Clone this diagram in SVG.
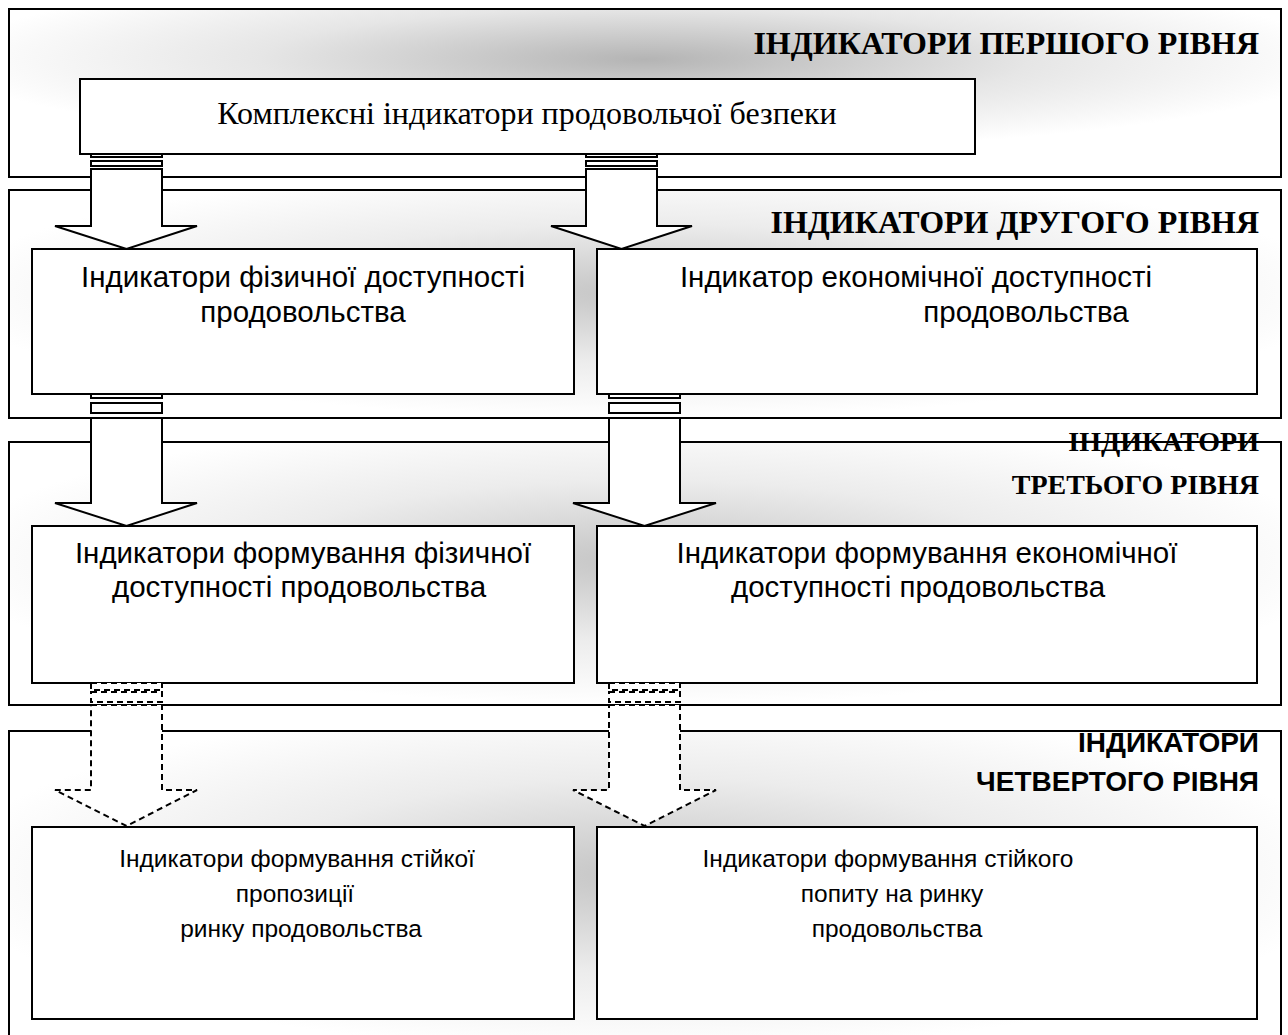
<svg xmlns="http://www.w3.org/2000/svg" width="1288" height="1035" viewBox="0 0 1288 1035">
<defs>
<radialGradient id="g1" cx="0.5" cy="0.3" r="0.55">
<stop offset="0" stop-color="#b4b4b4"/>
<stop offset="0.55" stop-color="#e6e6e6"/>
<stop offset="1" stop-color="#ffffff"/>
</radialGradient>
<radialGradient id="g2" cx="0.5" cy="0.45" r="0.55">
<stop offset="0" stop-color="#c4c4c4"/>
<stop offset="0.55" stop-color="#ececec"/>
<stop offset="1" stop-color="#ffffff"/>
</radialGradient>
</defs>
<style>
.panel{stroke:#000;stroke-width:2}
.box{fill:#fff;stroke:#000;stroke-width:2}
.arr{fill:#fff;stroke:#000;stroke-width:2;stroke-linejoin:miter}
.dash{fill:#fff;stroke:#000;stroke-width:2;stroke-dasharray:6 4}
.title{font-family:"Liberation Serif","Times New Roman",serif;font-weight:bold;font-size:28px;text-anchor:end}
.big{font-size:32px}
.titles{font-family:"Liberation Sans",Arial,sans-serif;font-weight:bold;font-size:28px;text-anchor:end}
.t1{font-family:"Liberation Serif","Times New Roman",serif;font-size:32px;text-anchor:middle}
.t{font-family:"Liberation Sans",Arial,sans-serif;font-size:29.5px;text-anchor:middle}
.t4{font-family:"Liberation Sans",Arial,sans-serif;font-size:24.5px;text-anchor:middle}
</style>
<g id="panel1">
<rect class="panel" x="9" y="9" width="1272" height="168" fill="url(#g1)"/>
<text class="title big" x="1259" y="54">ІНДИКАТОРИ ПЕРШОГО РІВНЯ</text>
</g>
<g id="panel2">
<rect class="panel" x="9" y="190" width="1272" height="228" fill="url(#g2)"/>
<text class="title big" x="1259" y="233">ІНДИКАТОРИ ДРУГОГО РІВНЯ</text>
</g>
<g id="panel3">
<rect class="panel" x="9" y="442" width="1272" height="263" fill="url(#g2)"/>
<text class="title" x="1259" y="451">ІНДИКАТОРИ</text>
<text class="title" x="1259" y="494">ТРЕТЬОГО РІВНЯ</text>
</g>
<g id="panel4">
<rect class="panel" x="9" y="731" width="1272" height="320" fill="url(#g2)"/>
<text class="titles" x="1259" y="752">ІНДИКАТОРИ</text>
<text class="titles" x="1259" y="791">ЧЕТВЕРТОГО РІВНЯ</text>
</g>
<g id="node-complex">
<rect class="box" x="80" y="79" width="895" height="75"/>
<text class="t1" x="527" y="124">Комплексні індикатори продовольчої безпеки</text>
</g>
<g id="node-phys">
<rect class="box" x="32" y="249" width="542" height="145"/>
<text class="t" x="303" y="287">Індикатори фізичної доступності</text>
<text class="t" x="303" y="322">продовольства</text>
</g>
<g id="node-econ">
<rect class="box" x="597" y="249" width="660" height="145"/>
<text class="t" x="916" y="287">Індикатор економічної доступності</text>
<text class="t" x="1026" y="322">продовольства</text>
</g>
<g id="node-phys-form">
<rect class="box" x="32" y="526" width="542" height="157"/>
<text class="t" x="303" y="563">Індикатори формування фізичної</text>
<text class="t" x="299" y="597">доступності продовольства</text>
</g>
<g id="node-econ-form">
<rect class="box" x="597" y="526" width="660" height="157"/>
<text class="t" x="927" y="563">Індикатори формування економічної</text>
<text class="t" x="918" y="597">доступності продовольства</text>
</g>
<g id="node-supply">
<rect class="box" x="32" y="827" width="542" height="192"/>
<text class="t4" x="297" y="867">Індикатори формування стійкої</text>
<text class="t4" x="295" y="902">пропозиції</text>
<text class="t4" x="301" y="937">ринку продовольства</text>
</g>
<g id="node-demand">
<rect class="box" x="597" y="827" width="660" height="192"/>
<text class="t4" x="888" y="867">Індикатори формування стійкого</text>
<text class="t4" x="892" y="902">попиту на ринку</text>
<text class="t4" x="897" y="937">продовольства</text>
</g>
<g id="connectors">
<g id="a1">
<rect class="arr" x="91" y="154" width="71" height="3"/>
<rect class="arr" x="91" y="161" width="71" height="5"/>
<path class="arr" d="M91,169 H162 V226 H197 L126.5,249 L55,226 H91 Z"/>
</g>
<g id="a2">
<rect class="arr" x="586" y="154" width="71" height="3"/>
<rect class="arr" x="586" y="161" width="71" height="5"/>
<path class="arr" d="M586,169 H657 V226 H692 L621.5,249 L551,226 H586 Z"/>
</g>
<g id="a3">
<rect class="arr" x="91" y="394" width="71" height="4"/>
<rect class="arr" x="91" y="403" width="71" height="10"/>
<path class="arr" d="M91,418 H162 V503 H197 L126.5,526 L55,503 H91 Z"/>
</g>
<g id="a4">
<rect class="arr" x="609" y="394" width="71" height="4"/>
<rect class="arr" x="609" y="403" width="71" height="10"/>
<path class="arr" d="M609,418 H680 V503 H716 L644.5,526 L573,503 H609 Z"/>
</g>
<g id="a5">
<rect class="dash" x="91" y="683" width="71" height="7"/>
<rect class="dash" x="91" y="692" width="71" height="10"/>
<path class="dash" d="M91,705 H162 V790 H197 L126.5,826 L55,790 H91 Z"/>
</g>
<g id="a6">
<rect class="dash" x="609" y="683" width="71" height="7"/>
<rect class="dash" x="609" y="692" width="71" height="10"/>
<path class="dash" d="M609,705 H680 V790 H716 L644.5,826 L573,790 H609 Z"/>
</g>
</g>
</svg>
